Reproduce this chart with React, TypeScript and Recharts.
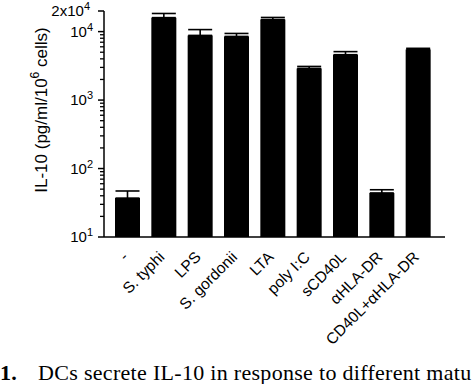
import { BarChart, Bar, XAxis, YAxis, ErrorBar } from "recharts";

const categories = [
  "-",
  "S. typhi",
  "LPS",
  "S. gordonii",
  "LTA",
  "poly I:C",
  "sCD40L",
  "αHLA-DR",
  "CD40L+αHLA-DR",
];
const means = [37, 16000, 8800, 8500, 15000, 2900, 4600, 44, 5500];
const sem = [10, 2400, 1900, 900, 1100, 200, 500, 5, 200];

const majorTicks = [10, 100, 1000, 10000, 20000];
const majorLabels = ["1", "2", "3", "4", "4"];
const minorTicks = [
  20, 30, 40, 50, 60, 70, 80, 90, 200, 300, 400, 500, 600, 700, 800, 900,
  2000, 3000, 4000, 5000, 6000, 7000, 8000, 9000,
];
const allTicks = [...majorTicks, ...minorTicks].sort((a, b) => a - b);

const data = categories.map((name, i) => ({
  name,
  value: means[i],
  err: [0, sem[i]],
}));

const font = "Arial, 'Liberation Sans', sans-serif";

function YTick(props: any) {
  const { x, y, payload } = props;
  const v = Number(payload.value);
  const idx = majorTicks.indexOf(v);
  if (idx < 0) {
    // minor tick, no label
    return (
      <path d={`M${x - 4},${y}H${x}`} stroke="#000" strokeWidth={1.3} fill="none" />
    );
  }
  const top = v === 20000;
  return (
    <g>
      <path d={`M${x - 6},${y}H${x}`} stroke="#000" strokeWidth={1.5} fill="none" />
      <text
        x={top ? x - 14 : x - 11}
        y={y + 5}
        textAnchor="end"
        fontSize={15}
        fontFamily={font}
        fill="#000"
      >
        {top ? "2x10" : "10"}
        <tspan dy={-6} fontSize={11}>
          {majorLabels[idx]}
        </tspan>
      </text>
    </g>
  );
}

function XTick(props: any) {
  const { x, y, payload } = props;
  const ax = x + 2;
  const ay = y + 21;
  return (
    <text
      x={ax}
      y={ay}
      textAnchor="end"
      fontSize={15.5}
      fontFamily={font}
      fill="#000"
      transform={`rotate(-45, ${ax}, ${ay})`}
    >
      {payload.value}
    </text>
  );
}

function YLabel() {
  return (
    <text
      x={47}
      y={110}
      textAnchor="middle"
      fontSize={17}
      fontFamily={font}
      fill="#000"
      transform="rotate(-90, 47, 110)"
    >
      IL-10 (pg/ml/10
      <tspan dy={-8} fontSize={12}>
        6
      </tspan>
      <tspan dy={8}> cells)</tspan>
    </text>
  );
}

export default function App() {
  return (
    <div
      style={{
        position: "absolute",
        left: 0,
        top: 0,
        width: 474,
        height: 384,
        background: "#fff",
        overflow: "hidden",
      }}
    >
      <BarChart
        width={474}
        height={384}
        data={data}
        margin={{ top: 11, right: 29, bottom: 0, left: 0 }}
      >
        <XAxis
          dataKey="name"
          height={147}
          interval={0}
          tickSize={0}
          tickMargin={0}
          tick={<XTick />}
          padding={{ left: 5, right: 9 }}
          axisLine={{ stroke: "#000", strokeWidth: 1.5 }}
        />
        <YAxis
          scale="log"
          domain={[10, 20000]}
          allowDataOverflow
          ticks={allTicks}
          interval={0}
          width={104}
          tickSize={0}
          tickMargin={0}
          tick={<YTick />}
          axisLine={{ stroke: "#000", strokeWidth: 1.5 }}
          label={<YLabel />}
        />
        <Bar dataKey="value" fill="#000" barSize={25} isAnimationActive={false}>
          <ErrorBar
            dataKey="err"
            width={12}
            stroke="#000"
            strokeWidth={1.6}
            direction="y"
            isAnimationActive={false}
          />
        </Bar>
      </BarChart>
      <div
        style={{
          position: "absolute",
          left: 0,
          top: 361,
          fontFamily: "'Liberation Serif', 'DejaVu Serif', serif",
          fontSize: 22,
          letterSpacing: 0.3,
          whiteSpace: "nowrap",
          color: "#000",
          lineHeight: "24px",
        }}
      >
        <b>1.</b>
        <span style={{ marginLeft: 21 }}>
          DCs secrete IL-10 in response to different matu
        </span>
      </div>
    </div>
  );
}
